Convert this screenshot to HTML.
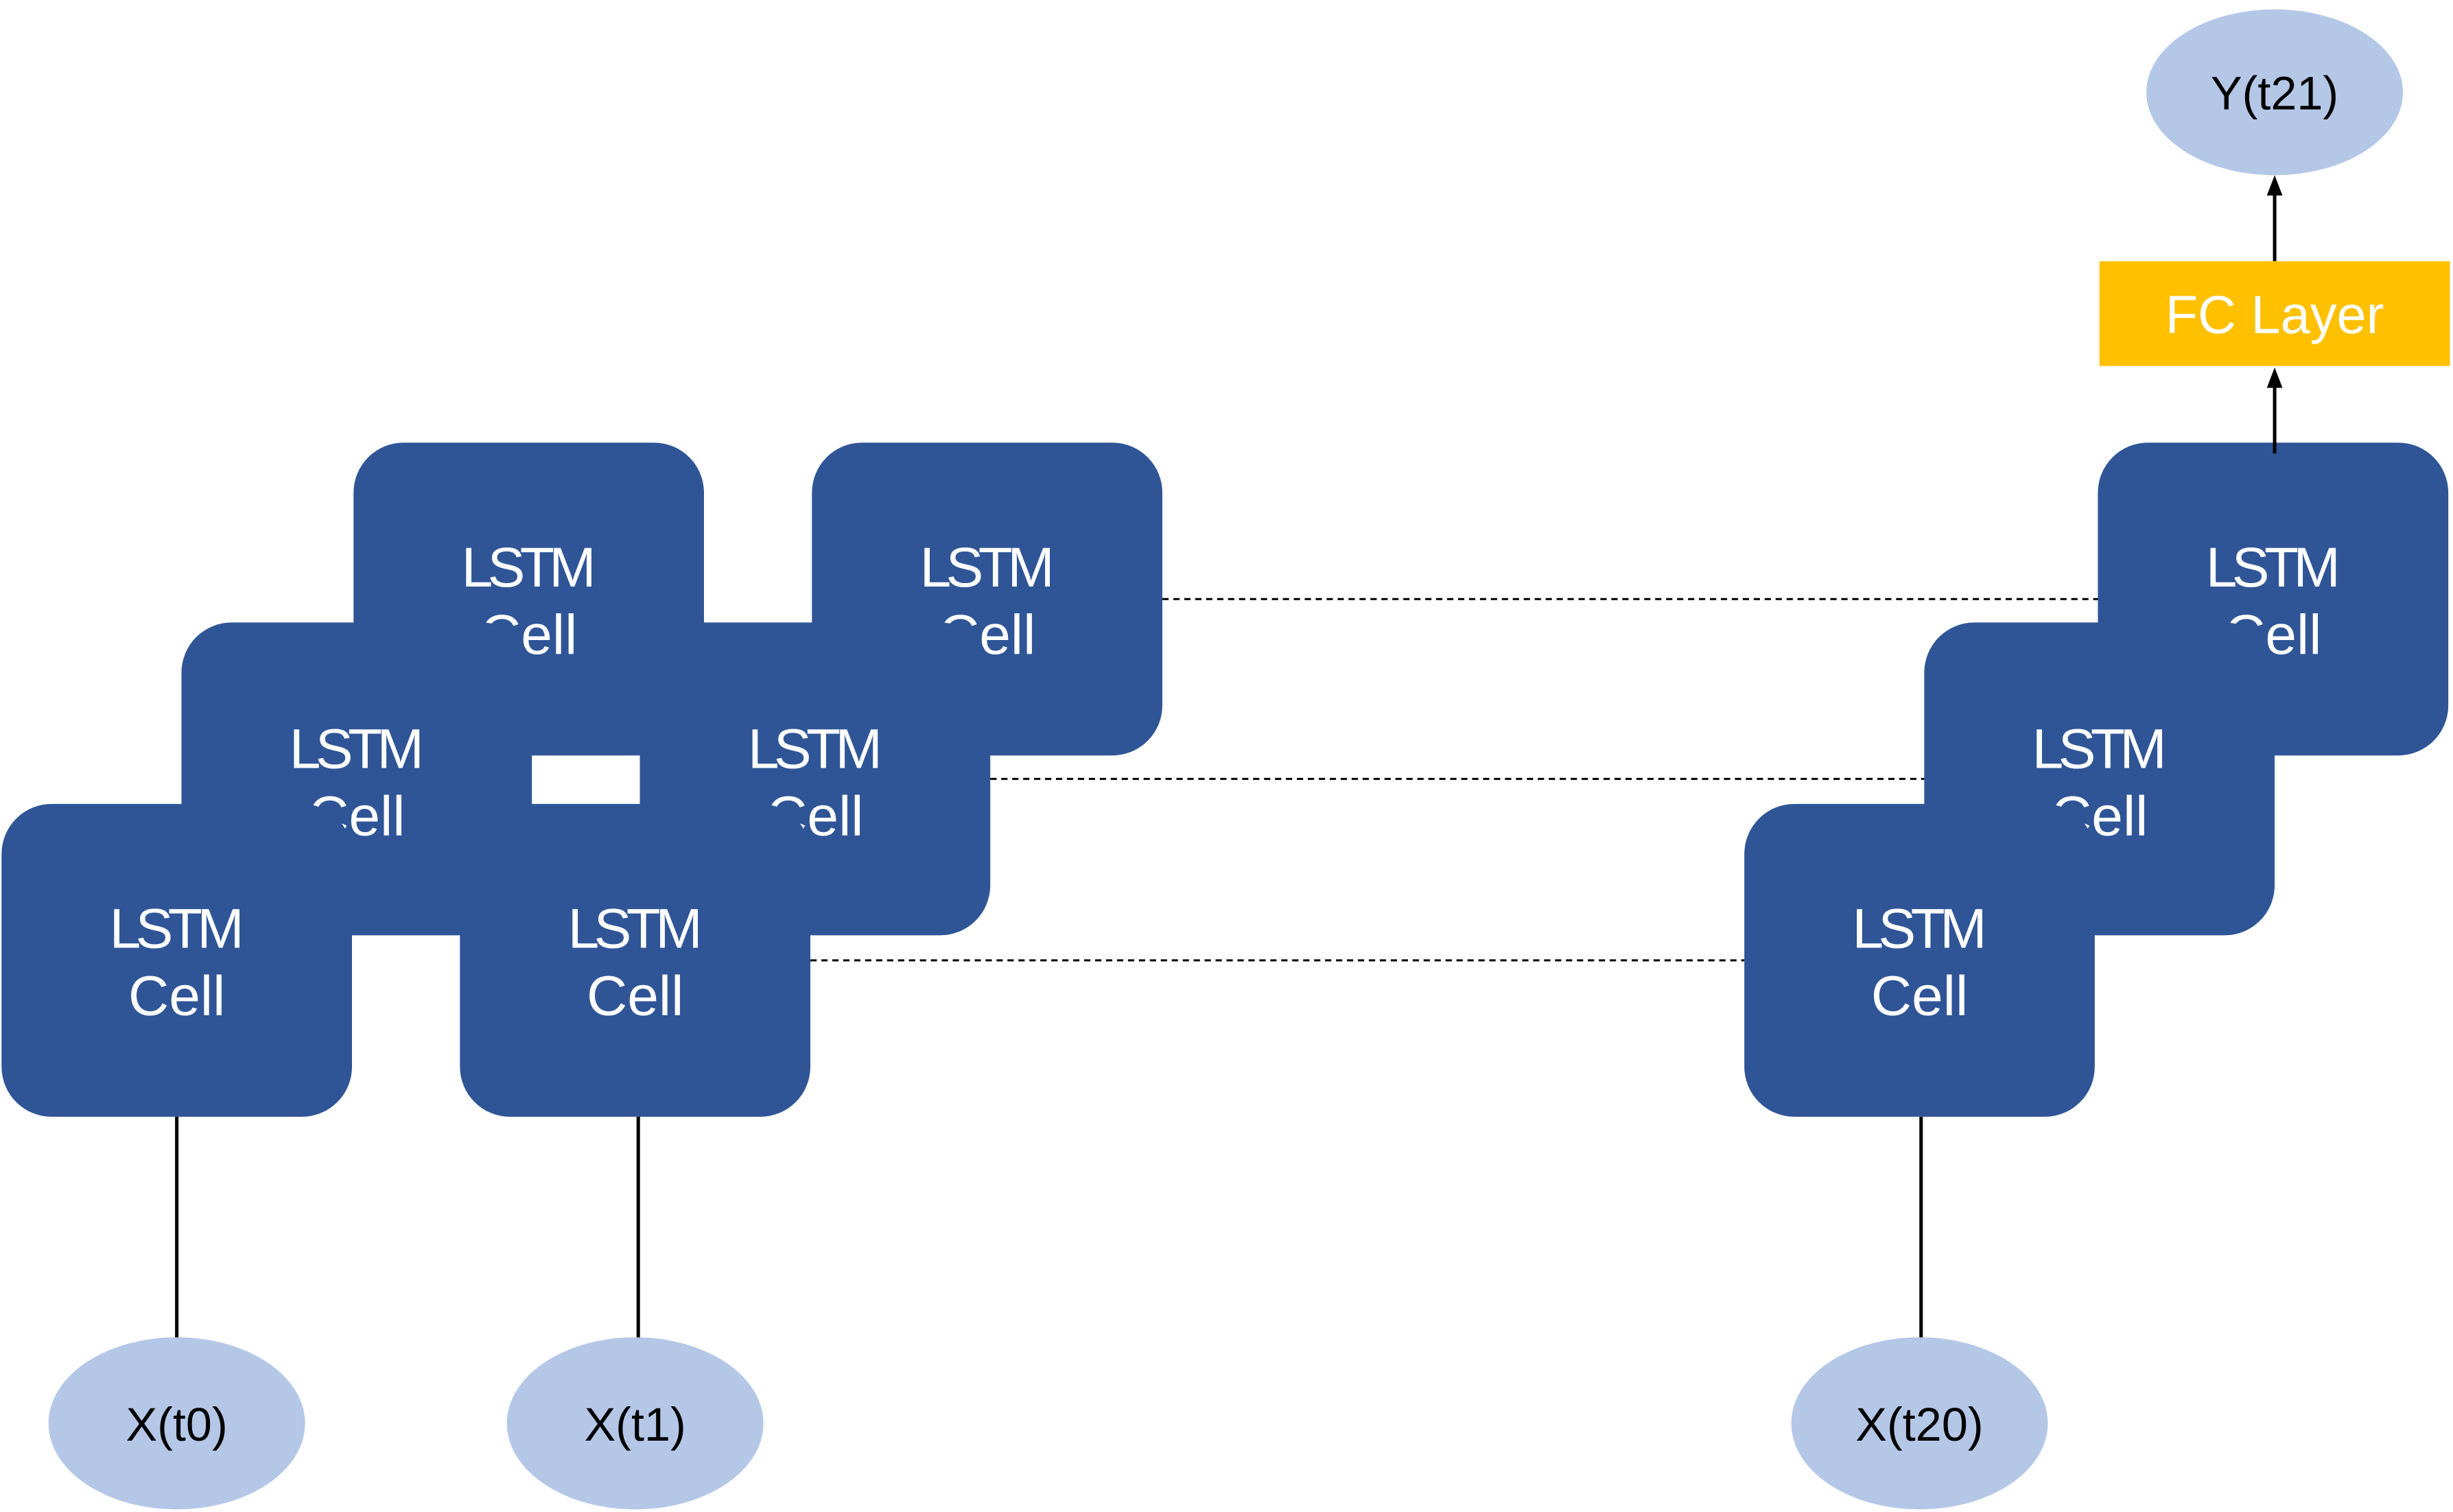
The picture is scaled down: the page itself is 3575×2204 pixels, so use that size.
<!DOCTYPE html>
<html><head><meta charset="utf-8"><style>
html,body{margin:0;padding:0;background:#fff;}
svg{display:block;}
.b{fill:#2F5597;}
.t{fill:#fff;font-family:"Liberation Sans",sans-serif;font-size:36px;text-anchor:middle;}
.e{fill:#B4C7E7;}
.k{fill:#000;font-family:"Liberation Sans",sans-serif;font-size:30px;text-anchor:middle;}
</style></head><body>
<svg width="3575" height="2204" viewBox="0 0 1568 966.7" preserveAspectRatio="none" xmlns="http://www.w3.org/2000/svg">
<rect width="1568" height="967" fill="#fff"/>
<g stroke="#000" stroke-width="1.3" stroke-dasharray="4,3">
<line x1="743" y1="383" x2="1341" y2="383"/>
<line x1="633" y1="498" x2="1230" y2="498"/>
<line x1="518" y1="614" x2="1115" y2="614"/>
</g>
<rect class="b" x="226" y="283" width="224" height="200" rx="32"/>
<text class="t" x="338" y="375" textLength="86">LSTM</text><text class="t" x="338" y="418">Cell</text>
<rect class="b" x="519" y="283" width="224" height="200" rx="32"/>
<text class="t" x="631" y="375" textLength="86">LSTM</text><text class="t" x="631" y="418">Cell</text>
<rect class="b" x="1341" y="283" width="224" height="200" rx="32"/>
<text class="t" x="1453" y="375" textLength="86">LSTM</text><text class="t" x="1453" y="418">Cell</text>
<rect class="b" x="116" y="398" width="224" height="200" rx="32"/>
<text class="t" x="228" y="491" textLength="86">LSTM</text><text class="t" x="228" y="534">Cell</text>
<rect class="b" x="409" y="398" width="224" height="200" rx="32"/>
<text class="t" x="521" y="491" textLength="86">LSTM</text><text class="t" x="521" y="534">Cell</text>
<rect class="b" x="1230" y="398" width="224" height="200" rx="32"/>
<text class="t" x="1342" y="491" textLength="86">LSTM</text><text class="t" x="1342" y="534">Cell</text>
<rect class="b" x="1" y="514" width="224" height="200" rx="32"/>
<text class="t" x="113" y="606" textLength="86">LSTM</text><text class="t" x="113" y="649">Cell</text>
<rect class="b" x="294" y="514" width="224" height="200" rx="32"/>
<text class="t" x="406" y="606" textLength="86">LSTM</text><text class="t" x="406" y="649">Cell</text>
<rect class="b" x="1115" y="514" width="224" height="200" rx="32"/>
<text class="t" x="1227" y="606" textLength="86">LSTM</text><text class="t" x="1227" y="649">Cell</text>
<g stroke="#000" stroke-width="2.2">
<line x1="113" y1="714" x2="113" y2="856"/>
<line x1="408" y1="714" x2="408" y2="856"/>
<line x1="1228" y1="714" x2="1228" y2="856"/>
<line x1="1454" y1="290" x2="1454" y2="246"/>
<line x1="1454" y1="167" x2="1454" y2="124"/>
</g>
<polygon points="1454,235 1449,248 1459,248" fill="#000"/>
<polygon points="1454,112 1449,125 1459,125" fill="#000"/>
<ellipse class="e" cx="113" cy="910" rx="82" ry="55"/><text class="k" x="113" y="921">X(t0)</text>
<ellipse class="e" cx="406" cy="910" rx="82" ry="55"/><text class="k" x="406" y="921">X(t1)</text>
<ellipse class="e" cx="1227" cy="910" rx="82" ry="55"/><text class="k" x="1227" y="921">X(t20)</text>
<ellipse class="e" cx="1454" cy="59" rx="82" ry="53"/><text class="k" x="1454" y="70">Y(t21)</text>
<rect x="1342" y="167" width="224" height="67" fill="#FFC000"/>
<text class="t" x="1454" y="213" style="font-size:34px">FC Layer</text>
</svg>
</body></html>
